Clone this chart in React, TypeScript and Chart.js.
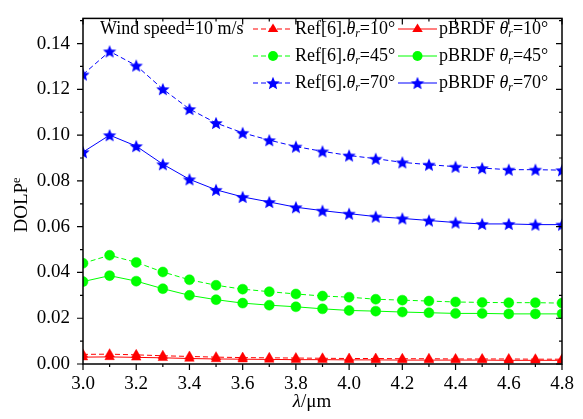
import React, { useEffect, useRef } from "react";
import { Chart, registerables } from "chart.js";

Chart.register(...registerables);

const wavelengths = [3.0, 3.1, 3.2, 3.3, 3.4, 3.5, 3.6, 3.7, 3.8, 3.9, 4.0, 4.1, 4.2, 4.3, 4.4, 4.5, 4.6, 4.7, 4.8];

const ref10 = [0.0042, 0.0043, 0.0040, 0.0036, 0.0033, 0.0030, 0.0028, 0.0027, 0.0026, 0.0025, 0.0024, 0.0024, 0.0023, 0.0023, 0.0022, 0.0022, 0.0022, 0.0021, 0.0021];
const pb10 = [0.0030, 0.0031, 0.0029, 0.0027, 0.0024, 0.0022, 0.0021, 0.0020, 0.0019, 0.0019, 0.0018, 0.0018, 0.0017, 0.0017, 0.0017, 0.0017, 0.0016, 0.0016, 0.0016];
const ref45 = [0.0440, 0.0475, 0.0444, 0.0402, 0.0368, 0.0344, 0.0327, 0.0316, 0.0306, 0.0297, 0.0292, 0.0283, 0.0279, 0.0275, 0.0271, 0.0269, 0.0268, 0.0268, 0.0266];
const pb45 = [0.0360, 0.0386, 0.0362, 0.0329, 0.0300, 0.0281, 0.0266, 0.0257, 0.0250, 0.0241, 0.0234, 0.0231, 0.0227, 0.0224, 0.0221, 0.0221, 0.0219, 0.0219, 0.0219];
const ref70 = [0.1265, 0.1366, 0.1304, 0.1201, 0.1114, 0.1053, 0.1010, 0.0978, 0.0950, 0.0929, 0.0911, 0.0897, 0.0881, 0.0871, 0.0862, 0.0856, 0.0849, 0.0849, 0.0847];
const pb70 = [0.0926, 0.1000, 0.0952, 0.0873, 0.0807, 0.0761, 0.0730, 0.0708, 0.0685, 0.0670, 0.0657, 0.0644, 0.0636, 0.0627, 0.0618, 0.0612, 0.0612, 0.0609, 0.0609];

const xMajorTicks = [3.0, 3.2, 3.4, 3.6, 3.8, 4.0, 4.2, 4.4, 4.6, 4.8];
const xMinorTicks = [3.1, 3.3, 3.5, 3.7, 3.9, 4.1, 4.3, 4.5, 4.7];
const yMajorTicks = [0, 0.02, 0.04, 0.06, 0.08, 0.1, 0.12, 0.14];
const yMinorTicks = [0.01, 0.03, 0.05, 0.07, 0.09, 0.11, 0.13, 0.15];

const angles = ["10°", "45°", "70°"];
const annotation = "Wind speed=10 m/s";

const RED = "#FF0000";
const GREEN = "#00FF00";
const BLUE = "#0000FF";
const FONT = "'Liberation Serif', 'Times New Roman', serif";

function makeStar(color: string, r: number) {
  const c = document.createElement("canvas");
  const s = Math.ceil(r * 2 + 2);
  c.width = s;
  c.height = s;
  const g = c.getContext("2d")!;
  g.beginPath();
  const cx = s / 2;
  const cy = s / 2 + r * 0.1;
  for (let i = 0; i < 10; i++) {
    const a = -Math.PI / 2 + (i * Math.PI) / 5;
    const rr = i % 2 === 0 ? r : r * 0.45;
    const px = cx + rr * Math.cos(a);
    const py = cy + rr * Math.sin(a);
    if (i === 0) g.moveTo(px, py);
    else g.lineTo(px, py);
  }
  g.closePath();
  g.fillStyle = color;
  g.fill();
  return c;
}

type Part = { t: string; italic?: boolean; sub?: boolean; sup?: boolean };

function drawRich(ctx: CanvasRenderingContext2D, x: number, y: number, parts: Part[], size: number, measureOnly = false) {
  let cx = x;
  for (const p of parts) {
    const sz = p.sub || p.sup ? size * 0.65 : size;
    ctx.font = `${p.italic ? "italic " : ""}${sz}px ${FONT}`;
    const dy = p.sub ? size * 0.28 : p.sup ? -size * 0.3 : 0;
    if (!measureOnly) ctx.fillText(p.t, cx, y + dy);
    cx += ctx.measureText(p.t).width;
  }
  return cx - x;
}

export default function App() {
  const ref = useRef<HTMLCanvasElement | null>(null);

  useEffect(() => {
    const canvas = ref.current;
    if (!canvas) return;
    const star = makeStar(BLUE, 7);
    const starSmall = makeStar(BLUE, 7);

    const mk = (arr: number[]) => wavelengths.map((x, i) => ({ x, y: arr[i] }));

    const datasets: any[] = [
      { label: "Ref[6] 10", data: mk(ref10), borderColor: RED, backgroundColor: RED, borderDash: [5, 3], pointStyle: "triangle", pointRadius: 5.5 },
      { label: "pBRDF 10", data: mk(pb10), borderColor: RED, backgroundColor: RED, pointStyle: "triangle", pointRadius: 5.5 },
      { label: "Ref[6] 45", data: mk(ref45), borderColor: GREEN, backgroundColor: GREEN, borderDash: [5, 3], pointStyle: "circle", pointRadius: 5 },
      { label: "pBRDF 45", data: mk(pb45), borderColor: GREEN, backgroundColor: GREEN, pointStyle: "circle", pointRadius: 5 },
      { label: "Ref[6] 70", data: mk(ref70), borderColor: BLUE, backgroundColor: BLUE, borderDash: [5, 3], pointStyle: star, pointRadius: 7 },
      { label: "pBRDF 70", data: mk(pb70), borderColor: BLUE, backgroundColor: BLUE, pointStyle: star, pointRadius: 7 },
    ].map((d) => ({
      ...d,
      borderWidth: 1,
      pointBackgroundColor: d.backgroundColor,
      pointBorderColor: d.borderColor,
      pointBorderWidth: 0.5,
      fill: false,
      tension: 0,
    }));

    const framePlugin = {
      id: "frame",
      afterDatasetsDraw(chart: any) {
        const { ctx, chartArea: a, scales } = chart;
        const xs = scales.x;
        const ys = scales.y;
        ctx.save();
        ctx.strokeStyle = "#000";
        ctx.lineWidth = 1.5;
        ctx.strokeRect(a.left, a.top, a.right - a.left, a.bottom - a.top);
        ctx.lineWidth = 1.2;
        ctx.beginPath();
        const tick = (x1: number, y1: number, x2: number, y2: number) => {
          ctx.moveTo(x1, y1);
          ctx.lineTo(x2, y2);
        };
        for (const v of xMajorTicks) {
          const px = xs.getPixelForValue(v);
          tick(px, a.bottom, px, a.bottom + 6);
          tick(px, a.top, px, a.top + 6);
        }
        for (const v of xMinorTicks) {
          const px = xs.getPixelForValue(v);
          tick(px, a.bottom, px, a.bottom + 3);
          tick(px, a.top, px, a.top + 3);
        }
        for (const v of yMajorTicks) {
          const py = ys.getPixelForValue(v);
          tick(a.left, py, a.left - 6, py);
          tick(a.right, py, a.right - 6, py);
        }
        for (const v of yMinorTicks) {
          const py = ys.getPixelForValue(v);
          if (py < a.top) continue;
          tick(a.left, py, a.left - 3, py);
          tick(a.right, py, a.right - 3, py);
        }
        ctx.stroke();

        // axis titles
        ctx.fillStyle = "#000";
        ctx.textBaseline = "middle";
        const xParts: Part[] = [{ t: "λ", italic: true }, { t: "/μm" }];
        const xw = drawRich(ctx, 0, 0, xParts, 19, true);
        drawRich(ctx, 312 - xw / 2, 402, xParts, 19);

        ctx.save();
        ctx.translate(22, 205);
        ctx.rotate(-Math.PI / 2);
        const yParts: Part[] = [{ t: "DOLP" }, { t: "e", sup: true }];
        const yw = drawRich(ctx, 0, 0, yParts, 19, true);
        drawRich(ctx, -yw / 2, 0, yParts, 19);
        ctx.restore();

        // legend
        const rows = [29, 56, 83];
        const colors = [RED, GREEN, BLUE];
        const styles = ["triangle", "circle", "star"];
        ctx.font = `18px ${FONT}`;
        ctx.textBaseline = "middle";
        ctx.fillText(annotation, 100, rows[0]);

        const drawMarker = (style: string, color: string, cx: number, cy: number) => {
          ctx.fillStyle = color;
          if (style === "star") {
            ctx.drawImage(starSmall, cx - starSmall.width / 2, cy - starSmall.height / 2);
          } else if (style === "circle") {
            ctx.beginPath();
            ctx.arc(cx, cy, 5, 0, Math.PI * 2);
            ctx.fill();
          } else {
            const r = 5.5;
            ctx.beginPath();
            ctx.moveTo(cx, cy - r);
            ctx.lineTo(cx + r * 0.866 * 1.1, cy + r * 0.5 * 1.1);
            ctx.lineTo(cx - r * 0.866 * 1.1, cy + r * 0.5 * 1.1);
            ctx.closePath();
            ctx.fill();
          }
        };

        for (let i = 0; i < 3; i++) {
          const y = rows[i];
          for (let col = 0; col < 2; col++) {
            const x0 = col === 0 ? 253 : 398;
            const x1 = col === 0 ? 293 : 437;
            ctx.strokeStyle = colors[i];
            ctx.lineWidth = 1;
            ctx.setLineDash(col === 0 ? [5, 3] : []);
            ctx.beginPath();
            ctx.moveTo(x0, y);
            ctx.lineTo(x1, y);
            ctx.stroke();
            ctx.setLineDash([]);
            drawMarker(styles[i], colors[i], (x0 + x1) / 2, y);
            ctx.fillStyle = "#000";
            const parts: Part[] = [
              { t: col === 0 ? "Ref[6]." : "pBRDF " },
              { t: "θ", italic: true },
              { t: "r", italic: true, sub: true },
              { t: "=" + angles[i] },
            ];
            drawRich(ctx, x1 + 2, y, parts, 18);
          }
        }
        ctx.restore();
      },
    };

    const chart = new Chart(canvas, {
      type: "line",
      data: { datasets },
      options: {
        animation: false,
        responsive: false,
        layout: { padding: { left: 0, top: 7, right: 21, bottom: 0 } },
        plugins: { legend: { display: false }, tooltip: { enabled: false }, title: { display: false } },
        scales: {
          x: {
            type: "linear",
            min: 3.0,
            max: 4.8,
            afterFit: (s: any) => {
              s.height = 55;
            },
            afterBuildTicks: (s: any) => {
              s.ticks = xMajorTicks.map((v) => ({ value: v }));
            },
            grid: { display: true, color: "rgba(0,0,0,0)", drawOnChartArea: false, drawTicks: true, tickLength: 6 },
            border: { display: false },
            ticks: {
              autoSkip: false,
              maxRotation: 0,
              padding: 3,
              color: "#000",
              font: { family: FONT, size: 19 },
              callback: (v: any) => Number(v).toFixed(1),
            },
          },
          y: {
            type: "linear",
            min: 0,
            max: 0.151,
            afterFit: (s: any) => {
              s.width = 83;
            },
            afterBuildTicks: (s: any) => {
              s.ticks = yMajorTicks.map((v) => ({ value: v }));
            },
            grid: { display: true, color: "rgba(0,0,0,0)", drawOnChartArea: false, drawTicks: true, tickLength: 6 },
            border: { display: false },
            ticks: {
              autoSkip: false,
              padding: 7,
              color: "#000",
              font: { family: FONT, size: 19 },
              callback: (v: any) => Number(v).toFixed(2),
            },
          },
        },
      },
      plugins: [framePlugin],
    } as any);

    return () => chart.destroy();
  }, []);

  return (
    <div style={{ position: "fixed", left: 0, top: 0, width: 583, height: 419, background: "#fff" }}>
      <canvas ref={ref} width={583} height={419} />
    </div>
  );
}
